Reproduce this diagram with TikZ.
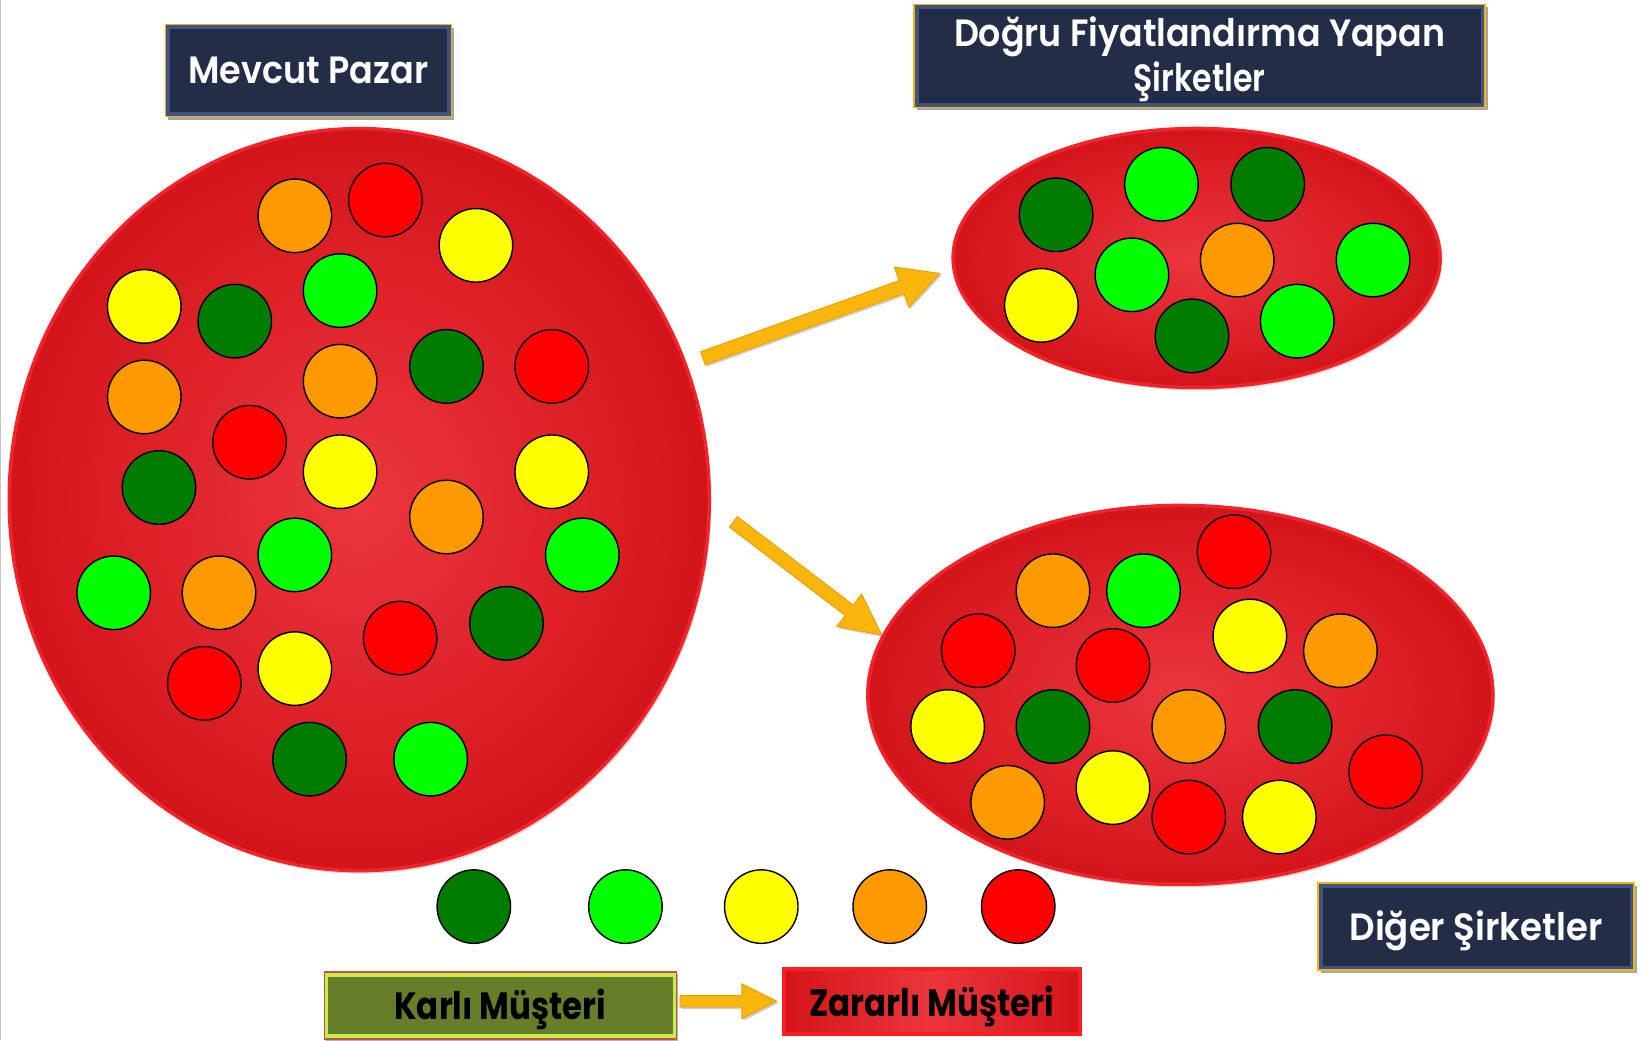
\documentclass[tikz,border=0pt]{standalone}
\usepackage{fontspec}
\setmainfont{Poppins}[BoldFont={Poppins SemiBold}]
\newfontfamily\heavyfont{Poppins Bold}
\usepackage{graphicx}
\usetikzlibrary{shapes.geometric,shadows,calc}
\definecolor{navy}{RGB}{36,45,72}
\definecolor{bevel}{RGB}{64,84,132}
\definecolor{gold}{RGB}{245,180,0}
\definecolor{arrowc}{RGB}{249,181,12}
\definecolor{arrowd}{RGB}{228,160,0}
\definecolor{redc}{RGB}{236,54,60}
\definecolor{rede}{RGB}{211,21,27}
\definecolor{redb}{RGB}{242,36,42}
\definecolor{zredb}{RGB}{252,30,34}
\definecolor{cdg}{RGB}{0,124,0}
\definecolor{cg}{RGB}{0,255,0}
\definecolor{cy}{RGB}{255,255,0}
\definecolor{co}{RGB}{255,153,0}
\definecolor{cr}{RGB}{255,0,0}
\definecolor{olive}{RGB}{102,126,42}
\definecolor{olivel}{RGB}{196,238,70}
\definecolor{kline}{RGB}{200,80,76}
\newcommand\blockarrow[5]{%
  \coordinate (ba-h) at ($(#2)!#5!(#1)$);
  \fill[arrowc, draw=arrowd, line width=0.8pt, line join=miter,
        drop shadow={shadow xshift=1.5pt, shadow yshift=-2pt, fill=black, opacity=0.18}]
    ($(#1)!#3!90:(#2)$) -- ($(ba-h)!#3!-90:(#1)$) -- ($(ba-h)!#4!-90:(#1)$) -- (#2)
    -- ($(ba-h)!#4!90:(#1)$) -- ($(ba-h)!#3!90:(#1)$) -- ($(#1)!#3!-90:(#2)$) -- cycle;}
\newcommand\lowtext[2]{\raisebox{-#1}[\height][\depth]{#2}}
\begin{document}
\begin{tikzpicture}[x=1.0529pt,y=-1.0529pt,
  blob/.style={ellipse, draw=redb, line width=3.5pt, inner color=redc, outer color=rede,
    drop shadow={shadow xshift=2pt, shadow yshift=-3pt, fill=black, opacity=0.15}},
  dot/.style={circle, draw=black, line width=1.4pt, minimum size=73.5pt, inner sep=0pt},
  navybox/.style={rectangle, fill=bevel, draw=gold, line width=1.6pt, inner sep=0pt,
    text=white, font=\fontsize{38}{44.3}\selectfont\bfseries,
    drop shadow={shadow xshift=2.5pt, shadow yshift=-3pt, fill=black, opacity=0.35},
    path picture={\fill[navy] ([shift={(4.5pt,4.5pt)}]path picture bounding box.south west)
      rectangle ([shift={(-4.5pt,-4.5pt)}]path picture bounding box.north east);}},
  legbox/.style={rectangle, inner sep=0pt, text=black, font=\fontsize{38}{44.3}\selectfont\heavyfont,
    drop shadow={shadow xshift=2pt, shadow yshift=-2.5pt, fill=black, opacity=0.3}}
]
\useasboundingbox (0,0) rectangle (1568,988);
\draw[black!22, line width=1.2pt] (0.6,0) -- (0.6,988);

% market ellipses
\node[blob, minimum width=700pt, minimum height=742pt] (pazar) at (341.2,474.5) {};
\node[blob, minimum width=487pt, minimum height=259pt] (dogru) at (1136.5,245) {};
\node[blob, minimum width=625pt, minimum height=379pt] (diger) at (1121,660) {};

% customers in the current market
\foreach \n/\c/\x/\y in {
  1/co/280/205, 2/cr/366/190, 3/cy/452/233, 4/cy/137/291, 5/cdg/223/305,
  6/cg/323/276, 7/co/137/377, 8/co/323/362, 9/cdg/424/348, 10/cr/524/348,
  11/cr/237/420, 12/cy/323/448, 13/cy/524/448, 14/cdg/151/463, 15/co/424/491,
  16/cg/280/527, 17/cg/553/527, 18/cg/108/563, 19/co/208/563, 20/cdg/481/592,
  21/cr/380/606, 22/cr/194/649, 23/cy/280/635, 24/cdg/294/721, 25/cg/409/721}
  \node[dot, fill=\c] (m\n) at (\x,\y) {};

% customers of correct-pricing companies
\foreach \n/\c/\x/\y in {
  1/cdg/1003/204, 2/cg/1103/175, 3/cdg/1204/175, 4/cg/1075/261, 5/co/1175/247,
  6/cg/1304/247, 7/cy/989/290, 8/cdg/1132/319, 9/cg/1232/305}
  \node[dot, fill=\c] (d\n) at (\x,\y) {};

% customers of other companies
\foreach \n/\c/\x/\y in {
  1/cr/1172/524, 2/co/1000/561, 3/cg/1086/561, 4/cr/929/618, 5/cr/1057/632,
  6/cy/1187/604, 7/co/1273/618, 8/cy/900/690, 9/cdg/1000/690, 10/co/1129/690,
  11/cdg/1230/690, 12/cr/1316/733, 13/co/957/762, 14/cy/1057/748, 15/cr/1129/776,
  16/cy/1215/776}
  \node[dot, fill=\c] (o\n) at (\x,\y) {};

% legend dots
\foreach \n/\c/\x in {1/cdg/450, 2/cg/594, 3/cy/723, 4/co/845, 5/cr/967}
  \node[dot, fill=\c] (l\n) at (\x,861) {};

% arrows from the market
\coordinate (a1s) at (667.5,340.3);
\coordinate (a1e) at (892.8,259.6);
\coordinate (a2s) at (696.5,495.5);
\coordinate (a2e) at (837.4,603.1);
\blockarrow{a1s}{a1e}{7pt}{21.5pt}{41pt}
\blockarrow{a2s}{a2e}{6.6pt}{20.5pt}{41pt}

% title boxes
\node[navybox, minimum width=286pt, minimum height=92pt] (tpazar) at (292.9,67)
  {\lowtext{4pt}{\begin{tabular}{@{}c@{}}\resizebox{240pt}{\height}{Mevcut Pazar}\end{tabular}}};
\node[navybox, minimum width=571pt, minimum height=103pt] (tdogru) at (1139.2,53)
  {\lowtext{4.2pt}{\begin{tabular}{@{}c@{}}\resizebox{491pt}{\height}{Doğru Fiyatlandırma Yapan}\\
   \resizebox{132pt}{\height}{Şirketler}\end{tabular}}};
\node[navybox, minimum width=316pt, minimum height=87pt] (tdiger) at (1401.8,880)
  {\lowtext{5pt}{\begin{tabular}{@{}c@{}}\resizebox{253pt}{\height}{Diğer Şirketler}\end{tabular}}};

% legend boxes
\node[legbox, fill=olivel, draw=kline, line width=1.2pt,
  minimum width=352pt, minimum height=67pt,
  path picture={\fill[olive] ([shift={(3.5pt,4.5pt)}]path picture bounding box.south west)
      rectangle ([shift={(-3.5pt,-5pt)}]path picture bounding box.north east);}]
  (karli) at (475.2,954.9)
  {\lowtext{5pt}{\begin{tabular}{@{}c@{}}\resizebox{212pt}{\height}{Karlı Müşteri}\end{tabular}}};
\node[legbox, draw=zredb, line width=4pt, left color=rede, right color=rede, middle color=redc,
  minimum width=296pt, minimum height=65pt]
  (zararli) at (885,950.9)
  {\lowtext{6.5pt}{\begin{tabular}{@{}c@{}}\resizebox{245pt}{\height}{Zararlı Müşteri}\end{tabular}}};

\coordinate (a3s) at ($(karli.east |- zararli.west)+(3pt,0pt)$);
\coordinate (a3e) at ($(zararli.west)+(-5pt,0pt)$);
\blockarrow{a3s}{a3e}{5.8pt}{17.5pt}{35pt}
\end{tikzpicture}
\end{document}
